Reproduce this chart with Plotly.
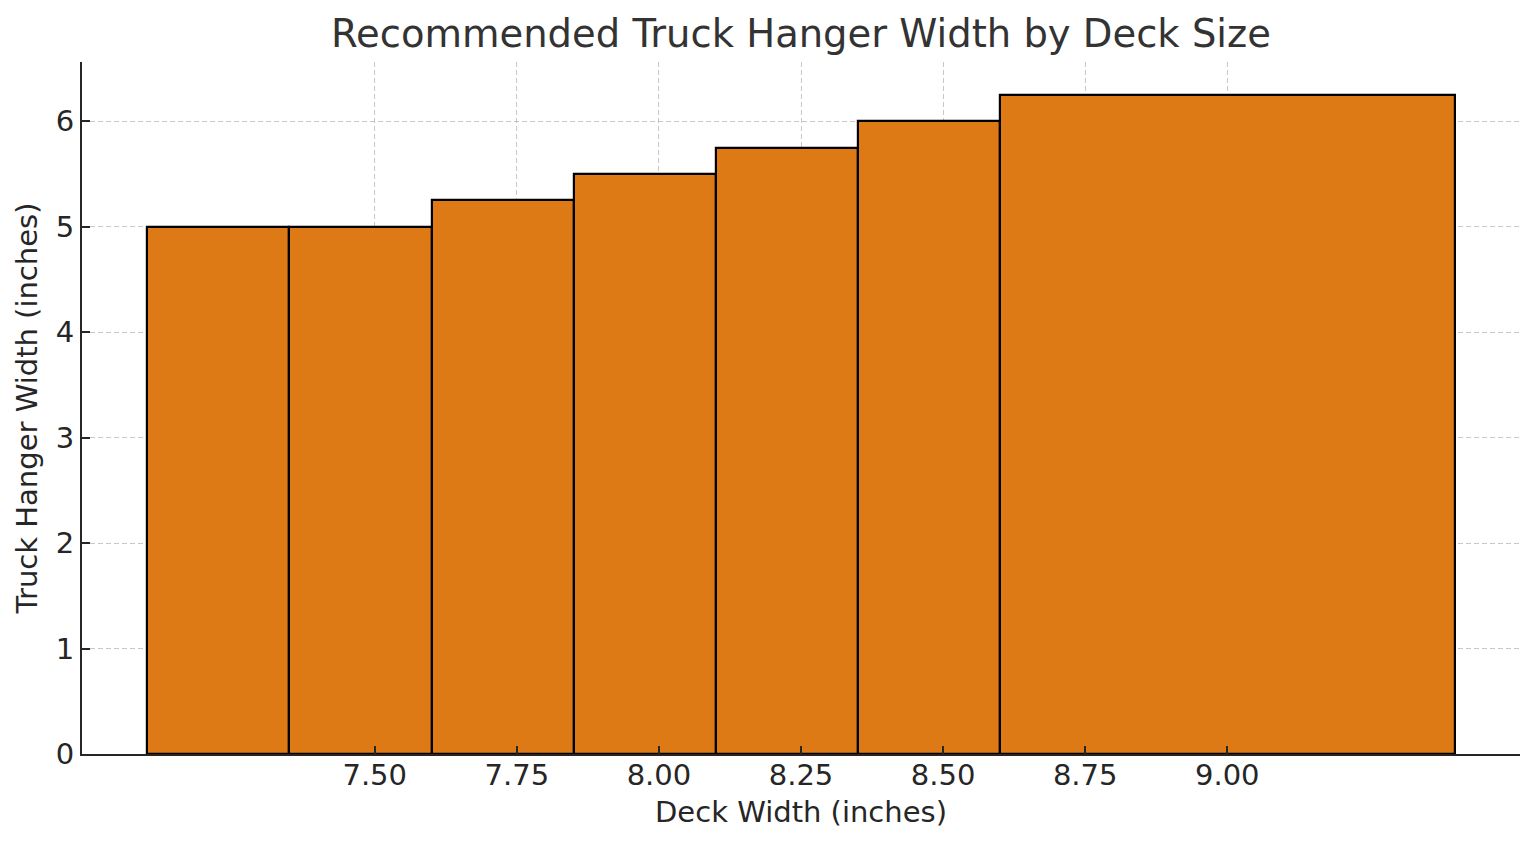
import plotly.graph_objects as go

# Data
deck_left = [7.10, 7.35, 7.60, 7.85, 8.10, 8.35, 8.60]
deck_span = [0.25, 0.25, 0.25, 0.25, 0.25, 0.25, 0.80]
hanger_width = [5.0, 5.0, 5.25, 5.5, 5.75, 6.0, 6.25]
x_ticks = [7.50, 7.75, 8.00, 8.25, 8.50, 8.75, 9.00]
y_ticks = [0, 1, 2, 3, 4, 5, 6]

FONT = "DejaVu Sans"
TXT = "#262626"
GRID = "rgba(176,176,176,0.7)"

fig = go.Figure()
fig.add_trace(go.Bar(
    x=deck_left,
    y=hanger_width,
    width=deck_span,
    offset=0,
    marker=dict(color="#DE7A16", line=dict(color="black", width=2.2)),
    showlegend=False,
    hoverinfo="x+y",
))

fig.update_layout(
    width=1536, height=846,
    margin=dict(l=74, r=24, t=54, b=100),
    paper_bgcolor="white",
    plot_bgcolor="white",
    font=dict(family=FONT, color=TXT, size=29),
    title=dict(
        text="Recommended Truck Hanger Width by Deck Size",
        font=dict(family=FONT, size=38.5, color="#333333"),
        x=(82 - 8 + 1520 - 8) / 2 / 1536, xanchor="center",
        y=1 - 26 / 846, yanchor="middle", yref="container",
    ),
    bargap=0,
)

fig.update_xaxes(
    range=[6.985, 9.515],
    tickvals=x_ticks,
    ticktext=[f"{v:.2f}" for v in x_ticks],
    ticks="inside", ticklen=8, tickwidth=2, tickcolor=TXT,
    tickfont=dict(size=29, color=TXT),
    ticklabelstandoff=-6,
    showline=True, linecolor=TXT, linewidth=2,
    showgrid=True, gridcolor=GRID, griddash="5px,3px", gridwidth=1.4,
    zeroline=False,
    layer="above traces",
    title=dict(text="Deck Width (inches)", font=dict(size=29, color=TXT), standoff=11),
)
fig.update_yaxes(
    range=[0, 6.5625],
    tickvals=y_ticks,
    ticks="inside", ticklen=8, tickwidth=2, tickcolor=TXT,
    tickfont=dict(size=29, color=TXT),
    showline=True, linecolor=TXT, linewidth=2,
    showgrid=True, gridcolor=GRID, griddash="5px,3px", gridwidth=1.4,
    zeroline=False,
    layer="above traces",
    title=dict(text="Truck Hanger Width (inches)", font=dict(size=29, color=TXT), standoff=10),
)

fig.write_html("out.html")
